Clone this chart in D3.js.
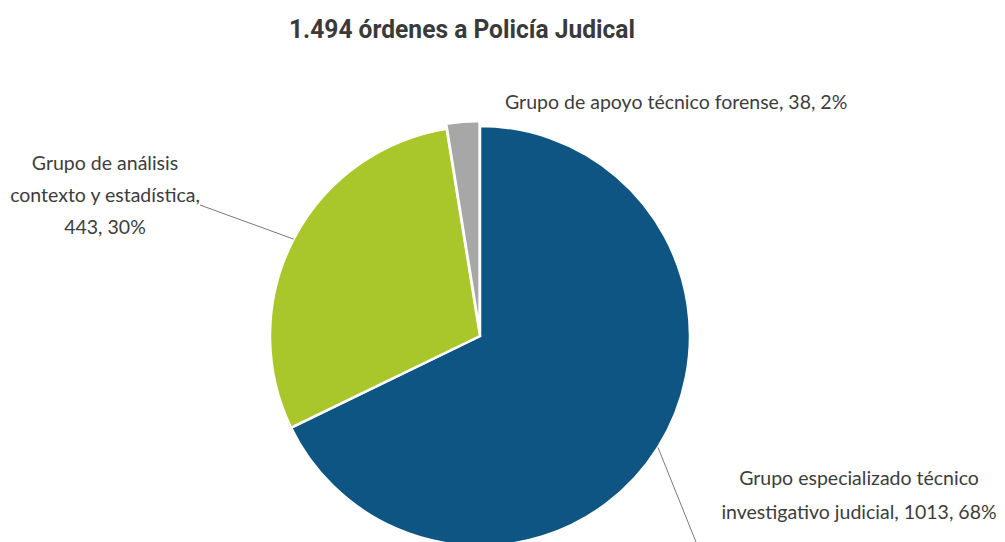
<!DOCTYPE html>
<html>
<head>
<meta charset="utf-8">
<script src="https://cdn.jsdelivr.net/npm/d3@7"></script>
<style>
  body { margin: 0; background: #fff; }
  svg { display: block; }
</style>
</head>
<body>
<div id="chart"></div>
<script>
var categories = ["Grupo especializado técnico investigativo judicial", "Grupo de análisis contexto y estadística", "Grupo de apoyo técnico forense"];
var values = [1013, 443, 38];
var percents = ["68%", "30%", "2%"];
var labelLines = [
    ["Grupo especializado técnico", "investigativo judicial, 1013, 68%"],
    ["Grupo de análisis", "contexto y estadística,", "443, 30%"],
    ["Grupo de apoyo técnico forense, 38, 2%"]
];
var colors = ["#0e5583", "#a9c62a", "#a7a7a7"];

var width = 1005;
var height = 542;
var cx = 480, cy = 336;
var radius = 210;

// label placement (layout only)
var labelPos = [
    { x: 859, y: 485, anchor: "middle", lineTo: [700, 552] },
    { x: 105, y: 170, anchor: "middle", lineTo: [200, 205] },
    { x: 505, y: 109, anchor: "start", lineTo: null }
];
var explode = [0, 0, 5];

var svg = d3.select("#chart")
    .append("svg")
    .attr("width", width)
    .attr("height", height);

svg.append("rect").attr("width", width).attr("height", height).attr("fill", "#fff");

svg.append("text")
    .attr("x", 462)
    .attr("y", 38)
    .attr("text-anchor", "middle")
    .attr("textLength", 346)
    .attr("lengthAdjust", "spacingAndGlyphs")
    .style("font-family", "Roboto")
    .style("font-weight", "bold")
    .style("font-size", "26px")
    .style("fill", "#3a3a3a")
    .text("1.494 órdenes a Policía Judical");

var pie = d3.pie().sort(null).value(function(d) { return d; });
var data_ready = pie(values);
var arc = d3.arc().innerRadius(0).outerRadius(radius);

var g = svg.append("g")
    .attr("transform", "translate(" + cx + "," + cy + ")");

g.selectAll("path")
    .data(data_ready)
    .enter().append("path")
    .attr("d", arc)
    .attr("transform", function(d, i) {
        var a = (d.startAngle + d.endAngle) / 2;
        return "translate(" + (Math.sin(a) * explode[i]) + "," + (-Math.cos(a) * explode[i]) + ")";
    })
    .attr("fill", function(d, i) { return colors[i]; })
    .attr("stroke", "white")
    .style("stroke-width", "2.5px");

// leader lines
data_ready.forEach(function(d, i) {
    var p = labelPos[i];
    if (!p.lineTo) return;
    var a = (d.startAngle + d.endAngle) / 2;
    var x0 = cx + Math.sin(a) * radius;
    var y0 = cy - Math.cos(a) * radius;
    svg.append("line")
        .attr("x1", x0).attr("y1", y0)
        .attr("x2", p.lineTo[0]).attr("y2", p.lineTo[1])
        .attr("stroke", "#7a7a7a")
        .style("stroke-width", "1px");
});

// labels
data_ready.forEach(function(d, i) {
    var p = labelPos[i];
    var t = svg.append("text")
        .attr("x", p.x)
        .attr("y", p.y)
        .attr("text-anchor", p.anchor)
        .style("font-family", "Lato")
        .style("font-size", "19.5px")
        .style("fill", "#3d3d3d");
    labelLines[i].forEach(function(line, j) {
        t.append("tspan")
            .attr("x", p.x)
            .attr("dy", j === 0 ? 0 : (i === 0 ? 34 : 32))
            .text(line);
    });
});
</script>
</body>
</html>
